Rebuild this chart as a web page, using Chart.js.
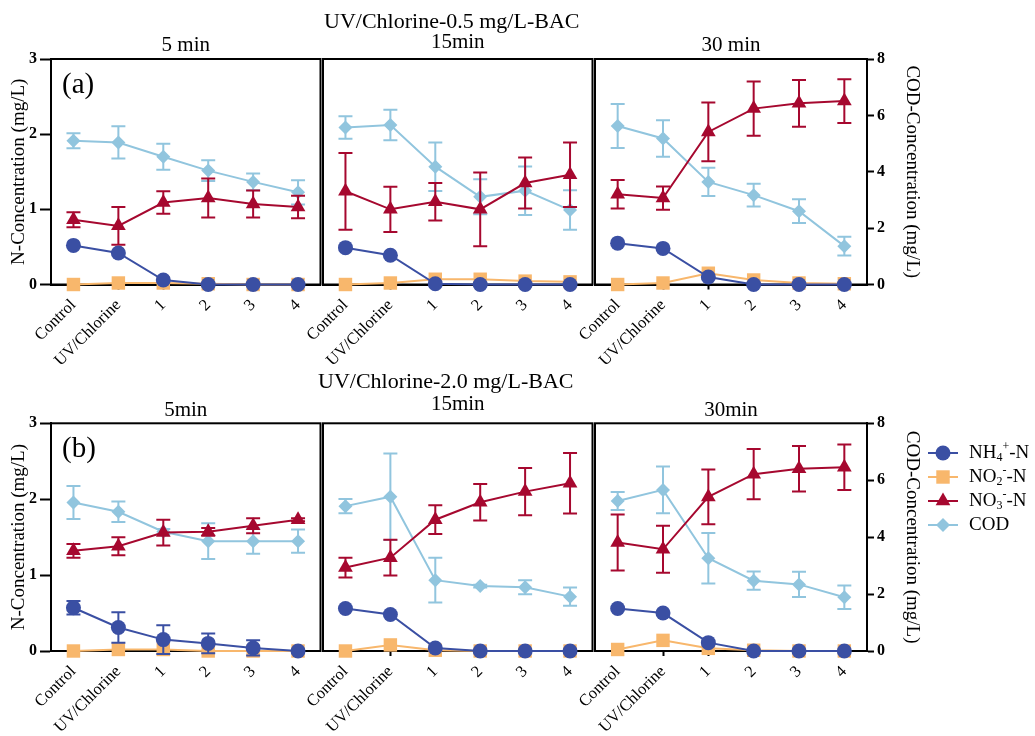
<!DOCTYPE html>
<html><head><meta charset="utf-8">
<script src="https://cdn.jsdelivr.net/npm/chart.js@4.4.0/dist/chart.umd.min.js"></script>
<style>
html,body{margin:0;padding:0;background:#fff;}
#wrap{position:relative;width:1035px;height:736px;overflow:hidden;background:#fff;}
#wrap canvas{position:absolute;}
</style></head>
<body><div id="wrap"></div>
<script>
// ---------- data ----------
const categories = ['Control', 'UV/Chlorine', '1', '2', '3', '4'];
const seriesNames = ['NH₄⁺-N', 'NO₂⁻-N', 'NO₃⁻-N', 'COD'];
const rowTitles = ['UV/Chlorine-0.5 mg/L-BAC', 'UV/Chlorine-2.0 mg/L-BAC'];
const panelTitlesA = ['5 min', '15min', '30 min'];
const panelTitlesB = ['5min', '15min', '30min'];
const rowTags = ['(a)', '(b)'];
const leftAxisTitle = 'N-Concentration (mg/L)';
const rightAxisTitle = 'COD-Concentration (mg/L)';

// (a) UV/Chlorine-0.5 mg/L-BAC, 5 min
const a5_NH4 = [0.52, 0.42, 0.06, 0, 0, 0];
const a5_NO2 = [0, 0.02, 0.02, 0.01, 0, 0];
const a5_NO3 = [0.86, 0.78, 1.09, 1.15, 1.07, 1.03];
const a5_NO3_err = [0.10, 0.25, 0.15, 0.26, 0.18, 0.15];
const a5_COD = [5.10, 5.04, 4.53, 4.04, 3.64, 3.27];
const a5_COD_err = [0.27, 0.57, 0.46, 0.37, 0.30, 0.43];
// (a) 15 min
const a15_NH4 = [0.49, 0.39, 0.01, 0, 0, 0];
const a15_NO2 = [0, 0.02, 0.07, 0.07, 0.045, 0.035];
const a15_NO3 = [1.24, 1.00, 1.10, 1.00, 1.35, 1.46];
const a15_NO3_err = [0.51, 0.30, 0.25, 0.49, 0.34, 0.43];
const a15_COD = [5.57, 5.66, 4.18, 3.11, 3.33, 2.64];
const a15_COD_err = [0.40, 0.54, 0.86, 0.62, 0.86, 0.70];
// (a) 30 min
const a30_NH4 = [0.55, 0.48, 0.10, 0, 0, 0];
const a30_NO2 = [0, 0.02, 0.15, 0.06, 0.02, 0.01];
const a30_NO3 = [1.20, 1.15, 2.03, 2.34, 2.41, 2.44];
const a30_NO3_err = [0.19, 0.155, 0.39, 0.36, 0.31, 0.29];
const a30_COD = [5.62, 5.18, 3.64, 3.17, 2.60, 1.36];
const a30_COD_err = [0.78, 0.65, 0.50, 0.40, 0.42, 0.33];

// (b) UV/Chlorine-2.0 mg/L-BAC, 5 min
const b5_NH4 = [0.57, 0.31, 0.15, 0.10, 0.04, 0];
const b5_NH4_err = [0.09, 0.20, 0.19, 0.13, 0.10, 0];
const b5_NO2 = [0, 0.02, 0.02, 0, 0, 0];
const b5_NO3 = [1.32, 1.38, 1.56, 1.57, 1.65, 1.73];
const b5_NO3_err = [0.09, 0.12, 0.17, 0.05, 0.10, 0.02];
const b5_COD = [5.22, 4.89, 4.19, 3.86, 3.86, 3.86];
const b5_COD_err = [0.58, 0.36, 0.10, 0.63, 0.44, 0.41];
// (b) 15 min
const b15_NH4 = [0.56, 0.48, 0.04, 0, 0, 0];
const b15_NO2 = [0, 0.08, 0.01, 0, 0, 0];
const b15_NO3 = [1.10, 1.23, 1.73, 1.96, 2.10, 2.21];
const b15_NO3_err = [0.13, 0.235, 0.19, 0.24, 0.31, 0.40];
const b15_COD = [5.09, 5.42, 2.49, 2.28, 2.24, 1.91];
const b15_COD_err = [0.25, 1.52, 0.79, 0.05, 0.25, 0.32];
// (b) 30 min
const b30_NH4 = [0.56, 0.50, 0.11, 0, 0, 0];
const b30_NO2 = [0.02, 0.14, 0.035, 0.01, 0, 0];
const b30_NO3 = [1.43, 1.34, 2.03, 2.33, 2.40, 2.42];
const b30_NO3_err = [0.37, 0.31, 0.36, 0.33, 0.30, 0.30];
const b30_COD = [5.27, 5.66, 3.26, 2.47, 2.34, 1.89];
const b30_COD_err = [0.32, 0.82, 0.89, 0.32, 0.44, 0.41];

// ---------- styles ----------
const FONT = "'Liberation Serif','Times New Roman',serif";
const COLORS = ['#3a4fa3', '#f8b76c', '#a6082f', '#91c5de'];
const SHAPES = ['circle', 'rect', 'triangle', 'rectRot'];
const RADII = [7.5, 9.5, 8.5, 7];

const panels = [
  [
    {NH4: a5_NH4, NO2: a5_NO2, NO3: a5_NO3, NO3e: a5_NO3_err, COD: a5_COD, CODe: a5_COD_err},
    {NH4: a15_NH4, NO2: a15_NO2, NO3: a15_NO3, NO3e: a15_NO3_err, COD: a15_COD, CODe: a15_COD_err},
    {NH4: a30_NH4, NO2: a30_NO2, NO3: a30_NO3, NO3e: a30_NO3_err, COD: a30_COD, CODe: a30_COD_err}
  ],
  [
    {NH4: b5_NH4, NH4e: b5_NH4_err, NO2: b5_NO2, NO3: b5_NO3, NO3e: b5_NO3_err, COD: b5_COD, CODe: b5_COD_err},
    {NH4: b15_NH4, NO2: b15_NO2, NO3: b15_NO3, NO3e: b15_NO3_err, COD: b15_COD, CODe: b15_COD_err},
    {NH4: b30_NH4, NO2: b30_NO2, NO3: b30_NO3, NO3e: b30_NO3_err, COD: b30_COD, CODe: b30_COD_err}
  ]
];

const colSpecs = [
  {left: 0, width: 330, padL: 0, padR: 7},
  {left: 280, width: 322, padL: 43, padR: 7},
  {left: 555, width: 480, padL: 40, padR: 112}
];
const rowSpecs = [
  {top: 0, height: 370, padTop: 59, xH: 85.5, titleDy: -36.5, subDy: [-13.5, -16.5, -14], titleDx: -6},
  {top: 365, height: 371, padTop: 58.3, xH: 85, titleDy: -41, subDy: [-13, -19, -13], titleDx: -12}
];

// ---------- plugins ----------
const errorBars = {
  id: 'errorBars',
  beforeDatasetDraw(chart, args) {
    const ds = chart.data.datasets[args.index];
    if (!ds.errors) return;
    const ys = chart.scales[ds.yAxisID];
    const ctx = chart.ctx;
    ctx.save();
    ctx.strokeStyle = ds.borderColor;
    ctx.lineWidth = 2;
    args.meta.data.forEach((pt, i) => {
      const e = ds.errors[i];
      if (!e) return;
      const v = ds.data[i];
      const yt = ys.getPixelForValue(v + e), yb = ys.getPixelForValue(v - e);
      const w = 7;
      ctx.beginPath();
      ctx.moveTo(pt.x, yt); ctx.lineTo(pt.x, yb);
      ctx.moveTo(pt.x - w, yt); ctx.lineTo(pt.x + w, yt);
      ctx.moveTo(pt.x - w, yb); ctx.lineTo(pt.x + w, yb);
      ctx.stroke();
    });
    ctx.restore();
  }
};

const frame = {
  id: 'frame',
  beforeDatasetsDraw(chart) {
    const a = chart.chartArea, ctx = chart.ctx;
    ctx.save();
    ctx.strokeStyle = '#000';
    ctx.lineWidth = 2;
    ctx.strokeRect(a.left, a.top, a.right - a.left, a.bottom - a.top);
    ctx.restore();
  }
};

const panelText = {
  id: 'panelText',
  afterDraw(chart, args, opts) {
    if (!opts || !opts.items) return;
    const a = chart.chartArea, ctx = chart.ctx;
    const cx = (a.left + a.right) / 2;
    ctx.save();
    ctx.fillStyle = '#000';
    ctx.textBaseline = 'middle';
    opts.items.forEach(it => {
      ctx.font = it.font;
      ctx.textAlign = it.align || 'center';
      const x = it.fromLeft !== undefined ? a.left + it.fromLeft : cx + (it.dx || 0);
      ctx.fillText(it.text, x, a.top + it.dy);
    });
    ctx.restore();
  }
};

const SUBMAP = {'₀':'0','₁':'1','₂':'2','₃':'3','₄':'4','₅':'5','₆':'6','₇':'7','₈':'8','₉':'9'};
const SUPMAP = {'⁺':'+','⁻':'-','⁰':'0','¹':'1','²':'2','³':'3','⁴':'4'};

function drawMarker(ctx, shape, x, y, r, color) {
  ctx.fillStyle = color;
  ctx.beginPath();
  if (shape === 'circle') {
    ctx.arc(x, y, r, 0, Math.PI * 2);
  } else if (shape === 'rect') {
    const s = r * Math.SQRT1_2;
    ctx.rect(x - s, y - s, 2 * s, 2 * s);
  } else if (shape === 'triangle') {
    for (let k = 0; k < 3; k++) {
      const ang = k * 2 * Math.PI / 3;
      const px = x + Math.sin(ang) * r, py = y - Math.cos(ang) * r;
      if (k === 0) ctx.moveTo(px, py); else ctx.lineTo(px, py);
    }
    ctx.closePath();
  } else {
    ctx.moveTo(x, y - r); ctx.lineTo(x + r, y); ctx.lineTo(x, y + r); ctx.lineTo(x - r, y);
    ctx.closePath();
  }
  ctx.fill();
}

const seriesLegend = {
  id: 'seriesLegend',
  afterDraw(chart, args, opts) {
    if (!opts || !opts.show) return;
    const ctx = chart.ctx;
    ctx.save();
    chart.data.datasets.forEach((ds, i) => {
      const y = opts.y0 + i * opts.dy;
      ctx.strokeStyle = ds.borderColor;
      ctx.lineWidth = 2;
      ctx.beginPath();
      ctx.moveTo(opts.x - 15, y); ctx.lineTo(opts.x + 15, y);
      ctx.stroke();
      drawMarker(ctx, ds.pointStyle, opts.x, y, ds.pointRadius, ds.backgroundColor);
      let tx = opts.tx;
      ctx.fillStyle = '#000';
      ctx.textBaseline = 'middle';
      ctx.textAlign = 'left';
      for (const ch of ds.label) {
        let t = ch, dy = 0, size = 19;
        if (SUBMAP[ch]) { t = SUBMAP[ch]; dy = 5; size = 12; }
        else if (SUPMAP[ch]) { t = SUPMAP[ch]; dy = -6; size = 12; }
        ctx.font = size + 'px ' + FONT;
        ctx.fillText(t, tx, y + dy);
        tx += ctx.measureText(t).width;
      }
    });
    ctx.restore();
  }
};

// ---------- build ----------
const wrap = document.getElementById('wrap');

function makeDatasets(p) {
  const vals = [p.NH4, p.NO2, p.NO3, p.COD];
  const errs = [p.NH4e, null, p.NO3e, p.CODe];
  return vals.map((v, i) => ({
    label: seriesNames[i],
    data: v,
    errors: errs[i] || null,
    yAxisID: i === 3 ? 'y2' : 'y',
    borderColor: COLORS[i],
    backgroundColor: COLORS[i],
    borderWidth: 2,
    pointStyle: SHAPES[i],
    pointRadius: RADII[i],
    pointBorderWidth: 0,
    pointBackgroundColor: COLORS[i],
    tension: 0,
    clip: false
  }));
}

for (let r = 0; r < 2; r++) {
  for (let c = 0; c < 3; c++) {
    const R = rowSpecs[r], C = colSpecs[c];
    const cv = document.createElement('canvas');
    cv.width = C.width; cv.height = R.height;
    cv.style.left = C.left + 'px'; cv.style.top = R.top + 'px';
    cv.style.width = C.width + 'px'; cv.style.height = R.height + 'px';
    wrap.appendChild(cv);

    const subTitles = r === 0 ? panelTitlesA : panelTitlesB;
    const items = [{text: subTitles[c], dy: R.subDy[c], dx: 0, font: '21px ' + FONT}];
    if (c === 1) items.push({text: rowTitles[r], dy: R.titleDy, dx: R.titleDx, font: '22px ' + FONT});
    if (c === 0) items.push({text: rowTags[r], dy: 26, fromLeft: 11, align: 'left', font: '29px ' + FONT});

    const showLeft = c === 0, showRight = c === 2;
    new Chart(cv, {
      type: 'line',
      data: {labels: categories, datasets: makeDatasets(panels[r][c])},
      plugins: [frame, errorBars, panelText, seriesLegend],
      options: {
        responsive: false, animation: false, devicePixelRatio: 1,
        layout: {padding: {left: C.padL, right: C.padR, top: R.padTop, bottom: 0}},
        plugins: {
          legend: {display: false}, tooltip: {enabled: false}, title: {display: false},
          panelText: {items},
          seriesLegend: {show: r === 1 && c === 2, x: 388, tx: 414, y0: 88, dy: 24}
        },
        scales: {
          x: {
            type: 'category', offset: true,
            afterFit: s => { s.height = R.xH; },
            grid: {display: true, drawOnChartArea: false, tickLength: 5, tickColor: '#000', tickWidth: 2},
            border: {display: true, color: '#000', width: 2},
            ticks: {color: '#000', font: {family: FONT, size: 16.5}, minRotation: 45, maxRotation: 45, autoSkip: false, padding: 6}
          },
          y: {
            position: 'left', display: showLeft, min: 0, max: 3,
            afterFit: s => { s.width = showLeft ? 51 : 0; },
            ticks: {stepSize: 1, color: '#000', font: {family: FONT, size: 16, weight: 'bold'}, padding: 3},
            grid: {display: true, drawOnChartArea: false, tickLength: 11, tickColor: '#000', tickWidth: 2},
            border: {display: true, color: '#000', width: 2},
            title: {display: true, text: leftAxisTitle, color: '#000', font: {family: FONT, size: 19}, padding: {top: 7.6, bottom: 0}}
          },
          y2: {
            position: 'right', display: showRight, min: 0, max: 8,
            afterFit: s => { s.width = showRight ? 56 : 0; },
            ticks: {stepSize: 2, color: '#000', font: {family: FONT, size: 16, weight: 'bold'}, padding: 3},
            grid: {display: true, drawOnChartArea: false, tickLength: 7, tickColor: '#000', tickWidth: 2},
            border: {display: true, color: '#000', width: 2},
            title: {display: true, text: rightAxisTitle, color: '#000', font: {family: FONT, size: 19}, padding: {top: 0, bottom: 0}}
          }
        }
      }
    });
  }
}
</script>
</body></html>
